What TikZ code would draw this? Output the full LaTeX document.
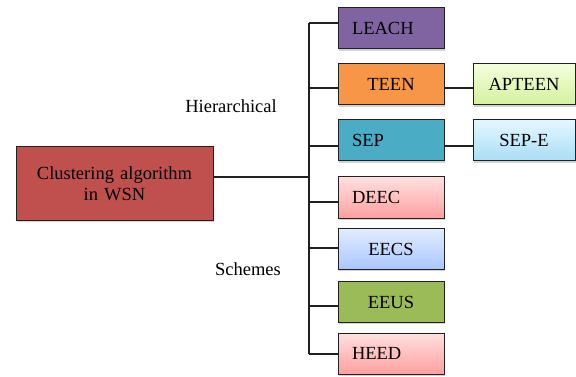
\documentclass[tikz,border=0pt]{standalone}
\usepackage{fontspec}
\setmainfont{Liberation Serif}
\usepackage{xcolor}
\usetikzlibrary{shadows}

\definecolor{mainred}{HTML}{C0504D}
\definecolor{leachpurple}{HTML}{8064A2}
\definecolor{teenorange}{HTML}{F79646}
\definecolor{septeal}{HTML}{4BACC6}
\definecolor{eeusgreen}{HTML}{9BBB59}
\definecolor{pinktop}{HTML}{FFE0E0}
\definecolor{pinkbot}{HTML}{FF9F9F}
\definecolor{bluetop}{HTML}{E2ECFF}
\definecolor{bluebot}{HTML}{A9C6FF}
\definecolor{limetop}{HTML}{F4FFDC}
\definecolor{limebot}{HTML}{D4F09C}
\definecolor{skytop}{HTML}{E4F7FF}
\definecolor{skybot}{HTML}{A9DDF5}
\definecolor{boxline}{HTML}{202020}

\tikzset{
  algbox/.style={draw=boxline, line width=1pt, minimum height=41pt, inner sep=0pt,
    inner xsep=14pt, text width=78pt,
    drop shadow={shadow xshift=0.8pt, shadow yshift=-1.8pt, opacity=0.35}},
  leftbox/.style={algbox, align=left},
  midbox/.style={algbox, align=center},
  subbox/.style={draw=boxline, line width=1pt, minimum width=102pt, minimum height=41pt,
    inner sep=0pt, align=center,
    drop shadow={shadow xshift=0.8pt, shadow yshift=-1.8pt, opacity=0.35}},
  link/.style={draw=boxline, line width=1.1pt}
}

\begin{document}
\begin{tikzpicture}[x=1pt,y=-1pt,font=\fontsize{18.5}{22}\selectfont]
  \useasboundingbox (0,0) rectangle (576,377);

  \node[algbox, fill=mainred, minimum width=197pt, minimum height=73pt,
        inner xsep=0pt, align=center, text width=180pt] (wsn) at (114.5,183.5)
        {Clustering algorithm\\[-1pt] in WSN};

  \node[leftbox, fill=leachpurple] (leach) at (391,28.5) {LEACH};
  \node[midbox, fill=teenorange] (teen) at (391,84.5) {TEEN};
  \node[leftbox, fill=septeal] (sep) at (391,140.5) {SEP};
  \node[leftbox, top color=pinktop, bottom color=pinkbot] (deec) at (391,197.5) {DEEC};
  \node[midbox, top color=bluetop, bottom color=bluebot] (eecs) at (391,249) {EECS};
  \node[midbox, fill=eeusgreen] (eeus) at (391,302) {EEUS};
  \node[leftbox, top color=pinktop, bottom color=pinkbot] (heed) at (391,353.5) {HEED};

  \node[subbox, top color=limetop, bottom color=limebot] (apteen) at (524,84.5) {APTEEN};
  \node[subbox, top color=skytop, bottom color=skybot] (sepe) at (524,140.5) {SEP-E};

  \node (hier) at (231,106) {Hierarchical};
  \node (schemes) at (248,269) {Schemes};

  % trunk
  \coordinate (ttop) at (309,23);
  \coordinate (tbot) at (309,354);
  \draw[link] (ttop) -- (tbot);
  \draw[link] ([yshift=6.5pt]wsn.east) -- ([yshift=6.5pt]wsn.east -| ttop);
  \foreach \b/\dy in {leach/5.5,teen/-3.5,sep/-5.5,deec/-4.5,eecs/1,eeus/-4,heed/-0.5}
    \draw[link] ([yshift=\dy pt]\b.west -| ttop) -- ([yshift=\dy pt]\b.west);
  \draw[link] ([yshift=-3.5pt]teen.east) -- ([yshift=-3.5pt]apteen.west);
  \draw[link] ([yshift=-5.5pt]sep.east) -- ([yshift=-5.5pt]sepe.west);
\end{tikzpicture}
\end{document}
